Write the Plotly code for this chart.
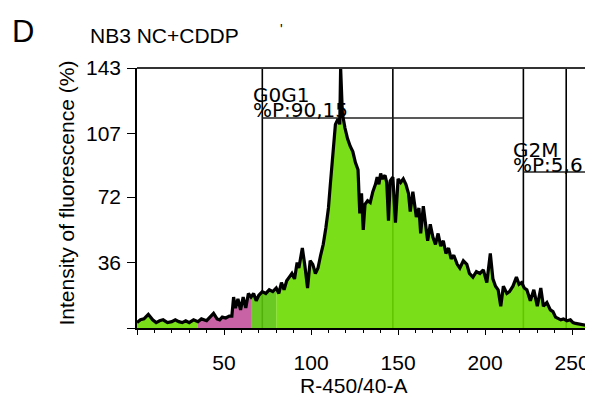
import plotly.graph_objects as go

# ---- data ----
channel = [0, 2, 4, 6.5, 9, 11, 13, 15, 17.5, 20, 22, 24, 26, 28, 30, 32.5, 35,
           37, 40, 42, 44, 46, 47.5, 49, 51, 53, 54.5, 55.5, 56.5, 58, 59.5, 61, 62.5, 64, 65.5,
           67, 68.5, 70, 72, 74, 76, 78, 80,
           81.5, 83, 84.5, 86, 87.5, 89, 90.5, 92, 93, 95, 96.5, 98, 99.5, 101, 102.5, 104,
           105.5, 107, 108.5, 110, 111, 112, 113, 114, 115.5, 116.5, 117, 118, 119.5, 121,
           122.5, 124, 125.5, 127, 128, 129, 130, 131, 132.5, 134, 135.5, 137, 138, 139, 140,
           141, 142.5, 143.5, 144.5, 145.5, 147, 148.5, 150, 151.5, 153, 154.5, 156, 157,
           158.5, 160.5, 162, 163, 164.5, 166, 167, 168.5, 170, 171.5, 173, 174.5, 176, 177.5,
           179, 180.5, 182, 184, 185.5, 187.5, 189.5, 191, 193, 195, 197, 199, 201, 203, 204.5,
           206, 207.5, 209, 210.5, 212.5, 214, 216, 218, 219.5, 221, 222.5, 224, 226, 228, 230,
           232, 233.5, 235.5, 237.5, 239, 240.5, 242, 243.5, 245, 247, 249, 250.5, 252, 254.5,
           256.5, 258, 259.5, 260, 260.5, 262]
counts = [3, 4.5, 5, 7.5, 4.5, 3, 4, 4.5, 3, 3.5, 4.5, 3.5, 3, 4, 3, 4.5, 3.5,
          5, 4, 6, 8, 5, 4.5, 6, 5.5, 6.5, 6.5, 17, 11, 16, 10, 17, 11, 19, 17,
          19, 15, 18, 20, 19, 21, 20, 22,
          19, 25, 21, 26, 28, 30, 27, 36, 33, 44, 34, 22, 37, 35, 30, 33,
          40, 46, 55, 66, 78, 89, 100, 112, 115, 112, 143, 118, 110, 104,
          100, 97, 91, 87, 63, 74, 54, 68, 70, 69, 75, 79, 83, 79, 85,
          82, 84, 80, 59, 81, 83, 58, 82, 80, 82, 79, 74, 64,
          75, 61, 66, 52, 67, 57, 48, 57, 50, 46, 52, 45, 48, 41,
          44, 38, 40, 35, 33, 37, 35, 30, 28, 31, 30, 32, 25, 41, 27,
          23, 21, 12, 23, 19, 20, 23, 28, 24, 25, 22, 21, 15, 21, 12,
          22, 12, 14, 10, 9, 6, 5, 4.5, 5, 4, 4.5, 3, 2.5, 2,
          1.5, 1.5, 2, 16, 2, 1]

region_bounds = [0, 35, 65.5, 80, 262]
region_colors = ["rgba(107,218,0,0.9)", "rgba(200,100,165,1)",
                 "rgba(90,195,10,0.9)", "rgba(107,218,0,0.9)"]

gate_x = [72, 147, 222, 246.6]
g0g1_y = 115.5
g2m_y = 85.8

y_ticks = [0, 36, 72, 107, 143]
x_ticks = [0, 50, 100, 150, 200, 250]

FONT = "Liberation Sans, Arial, Helvetica, sans-serif"

# page body has an 8px margin; plot area in page pixels: x 136.5..593, y 68..328
PL, PW, PB, PH = 136.5, 456.5, 328, 260

fig = go.Figure()

for i in range(len(region_bounds) - 1):
    lo, hi = region_bounds[i], region_bounds[i + 1]
    xs = [c for c in channel if lo <= c <= hi]
    ys = [v for c, v in zip(channel, counts) if lo <= c <= hi]
    fig.add_trace(go.Scatter(x=xs, y=ys, mode="lines", fill="tozeroy",
                             fillcolor=region_colors[i], line=dict(width=0),
                             hoverinfo="skip", showlegend=False))

fig.add_trace(go.Scatter(x=channel, y=counts, mode="lines",
                         line=dict(color="black", width=3.2), showlegend=False))

shapes = []
for gx in gate_x:
    shapes.append(dict(type="line", xref="x", yref="y", x0=gx, x1=gx, y0=0, y1=143,
                       line=dict(color="black", width=1.6), layer="below"))
shapes.append(dict(type="line", xref="x", yref="y", x0=gate_x[0], x1=gate_x[2],
                   y0=g0g1_y, y1=g0g1_y, line=dict(color="#222", width=1.6), layer="below"))
shapes.append(dict(type="line", xref="x", yref="y", x0=gate_x[2], x1=262,
                   y0=g2m_y, y1=g2m_y, line=dict(color="#222", width=1.6), layer="below"))
shapes.append(dict(type="line", xref="paper", yref="paper", x0=0, x1=1, y0=1, y1=1,
                   line=dict(color="#333", width=1.8)))


def px(xp):
    return (xp - PL) / PW


def py(yp):
    return (PB - yp) / PH


annotations = [
    dict(text="D", xref="paper", yref="paper", x=px(22.5), y=py(31.5), showarrow=False,
         font=dict(family=FONT, size=31, color="black"), xanchor="center", yanchor="middle"),
    dict(text="NB3 NC+CDDP", xref="paper", yref="paper", x=px(87), y=py(35),
         showarrow=False, font=dict(family=FONT, size=21, color="black"),
         xanchor="left", yanchor="middle"),
    dict(text="'", xref="paper", yref="paper", x=px(281), y=py(29),
         showarrow=False, font=dict(family=FONT, size=14, color="black"),
         xanchor="center", yanchor="middle"),
    dict(text="Intensity of fluorescence (%)", xref="paper", yref="paper",
         x=px(65), y=py(193), textangle=-90, showarrow=False,
         font=dict(family=FONT, size=21, color="black"), xanchor="center", yanchor="middle"),
    dict(text="R-450/40-A", xref="paper", yref="paper", x=px(353),
         y=py(385), showarrow=False,
         font=dict(family=FONT, size=21, color="black"), xanchor="center", yanchor="middle"),
    dict(text="G0G1", xref="x", yref="y", x=65.5, y=128.2, showarrow=False,
         font=dict(family="DejaVu Sans", size=20, color="black"), xanchor="left", yanchor="middle"),
    dict(text="%P:90,15", xref="x", yref="y", x=65.5, y=120.0, showarrow=False,
         font=dict(family="DejaVu Sans", size=20, color="black"), xanchor="left", yanchor="middle"),
    dict(text="G2M", xref="x", yref="y", x=215.0, y=97.9, showarrow=False,
         font=dict(family="DejaVu Sans", size=20, color="black"), xanchor="left", yanchor="middle"),
    dict(text="%P:5,6", xref="x", yref="y", x=215.0, y=89.8, showarrow=False,
         font=dict(family="DejaVu Sans", size=20, color="black"), xanchor="left", yanchor="middle"),
]

fig.update_layout(
    width=585, height=392,
    margin=dict(l=128.5, r=0, t=60, b=72),
    paper_bgcolor="white", plot_bgcolor="white",
    shapes=shapes, annotations=annotations,
    showlegend=False,
    xaxis=dict(range=[0, 262], showgrid=False, zeroline=False,
               showline=True, linecolor="black", linewidth=2,
               tickmode="array", tickvals=x_ticks,
               ticktext=["" if t == 0 else str(t) for t in x_ticks],
               ticks="outside", ticklen=5, tickwidth=1.2, tickcolor="black",
               minor=dict(dtick=10, tick0=0, ticks="outside", ticklen=3, tickwidth=1, tickcolor="black"),
               tickfont=dict(family=FONT, size=21, color="black"),
               ticklabelstandoff=10),
    yaxis=dict(range=[0, 143], showgrid=False, zeroline=False,
               showline=True, linecolor="black", linewidth=1.5,
               tickmode="array", tickvals=y_ticks,
               ticktext=["" if t == 0 else str(t) for t in y_ticks],
               ticks="outside", ticklen=8, tickwidth=1, tickcolor="black",
               tickfont=dict(family=FONT, size=21, color="black"),
               ticklabelstandoff=2),
)

fig.write_html("out.html")
